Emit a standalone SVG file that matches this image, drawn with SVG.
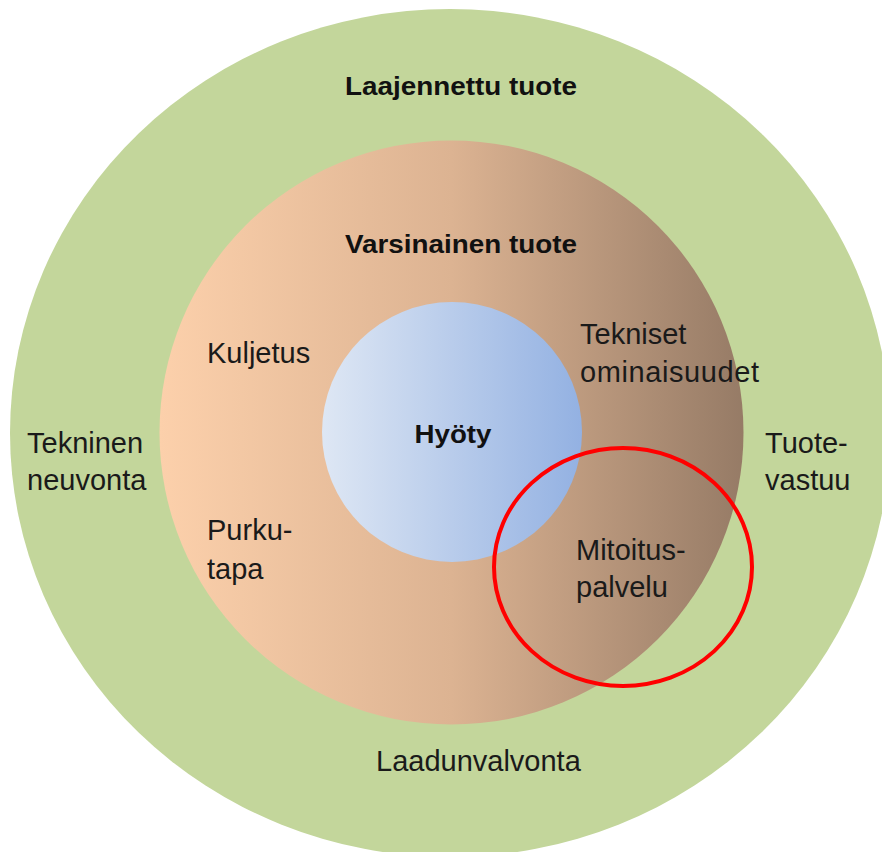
<svg xmlns="http://www.w3.org/2000/svg" width="882" height="852" viewBox="0 0 882 852">
  <defs>
    <linearGradient id="gPeach" x1="0" y1="0" x2="1" y2="0">
      <stop offset="0" stop-color="#fcd0ab"/>
      <stop offset="0.5" stop-color="#dcb392"/>
      <stop offset="1" stop-color="#967b66"/>
    </linearGradient>
    <linearGradient id="gBlue" x1="0" y1="0" x2="1" y2="0">
      <stop offset="0" stop-color="#dee7f4"/>
      <stop offset="1" stop-color="#93b1e2"/>
    </linearGradient>
  </defs>
  <style>
    .lbl { font-family: "Liberation Sans", Arial, sans-serif; font-size: 29px; fill: #1a1a1a; }
    .hd { font-family: "Liberation Sans", Arial, sans-serif; font-size: 26px; font-weight: bold; fill: #111111; }
  </style>
  <rect width="882" height="852" fill="#ffffff"/>
  <g id="laajennettu">
    <ellipse cx="450" cy="433" rx="440" ry="424" fill="#c3d69b"/>
    <text class="hd" x="461" y="95" text-anchor="middle" textLength="232" lengthAdjust="spacingAndGlyphs">Laajennettu tuote</text>
    <text class="lbl" x="27" y="453">Tekninen</text>
    <text class="lbl" x="27" y="490">neuvonta</text>
    <text class="lbl" x="765" y="453">Tuote-</text>
    <text class="lbl" x="765" y="490">vastuu</text>
    <text class="lbl" x="376" y="771">Laadunvalvonta</text>
  </g>
  <g id="varsinainen">
    <circle cx="451.5" cy="432.5" r="292" fill="url(#gPeach)"/>
    <text class="hd" x="461" y="253" text-anchor="middle" textLength="232" lengthAdjust="spacingAndGlyphs">Varsinainen tuote</text>
    <text class="lbl" x="207" y="363">Kuljetus</text>
    <text class="lbl" x="580" y="344">Tekniset</text>
    <text class="lbl" x="580" y="382" textLength="179" lengthAdjust="spacing">ominaisuudet</text>
    <text class="lbl" x="207" y="540">Purku-</text>
    <text class="lbl" x="207" y="579">tapa</text>
  </g>
  <g id="hyoty">
    <circle cx="452" cy="432" r="130" fill="url(#gBlue)"/>
    <text class="hd" x="453" y="443" text-anchor="middle" textLength="77" lengthAdjust="spacingAndGlyphs">Hyöty</text>
  </g>
  <g id="mitoitus">
    <ellipse cx="623" cy="567" rx="129" ry="119" fill="none" stroke="#ff0000" stroke-width="4"/>
    <text class="lbl" x="576" y="560">Mitoitus-</text>
    <text class="lbl" x="576" y="597">palvelu</text>
  </g>
  <g id="connectors"/>
</svg>
